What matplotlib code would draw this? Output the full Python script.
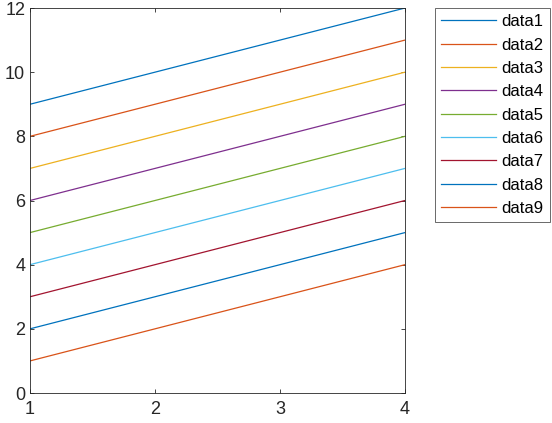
import matplotlib

matplotlib.use("Agg")

import matplotlib.pyplot as plt

x = [1, 2, 3, 4]
offsets = [8, 7, 6, 5, 4, 3, 2, 1, 0]
labels = ["data1", "data2", "data3", "data4", "data5", "data6", "data7", "data8", "data9"]
colors = ["#0072BD", "#D95319", "#EDB120", "#7E2F8E", "#77AC30",
          "#4DBEEE", "#A2142F", "#0072BD", "#D95319"]

plt.rcParams["font.family"] = "Liberation Sans"

fig = plt.figure(figsize=(5.52, 4.23), dpi=100)
ax = fig.add_axes([30 / 552, 30 / 423, 375 / 552, 385 / 423])

for off, lab, col in zip(offsets, labels, colors):
    ax.plot(x, [v + off for v in x], color=col, linewidth=0.9, label=lab)

ax.set_xlim(1, 4)
ax.set_ylim(0, 12)
ax.set_xticks([1, 2, 3, 4])
ax.set_yticks(range(0, 13, 2))
ax.tick_params(direction="in", length=3, width=0.6, labelsize=13, colors="#262626",
               top=True, right=True)
ax.tick_params(axis="x", pad=6)
for s in ax.spines.values():
    s.set_color("#262626")
    s.set_linewidth(0.6)

leg = ax.legend(loc="upper left", bbox_to_anchor=(435 / 552, 415 / 423),
                bbox_transform=fig.transFigure, fontsize=12, frameon=True,
                fancybox=False, borderpad=0.38, labelspacing=0.5,
                handlelength=3.3, handletextpad=0.3, borderaxespad=0)
leg.get_frame().set_edgecolor("#262626")
leg.get_frame().set_linewidth(0.6)

fig.savefig("out.png", dpi=100)
